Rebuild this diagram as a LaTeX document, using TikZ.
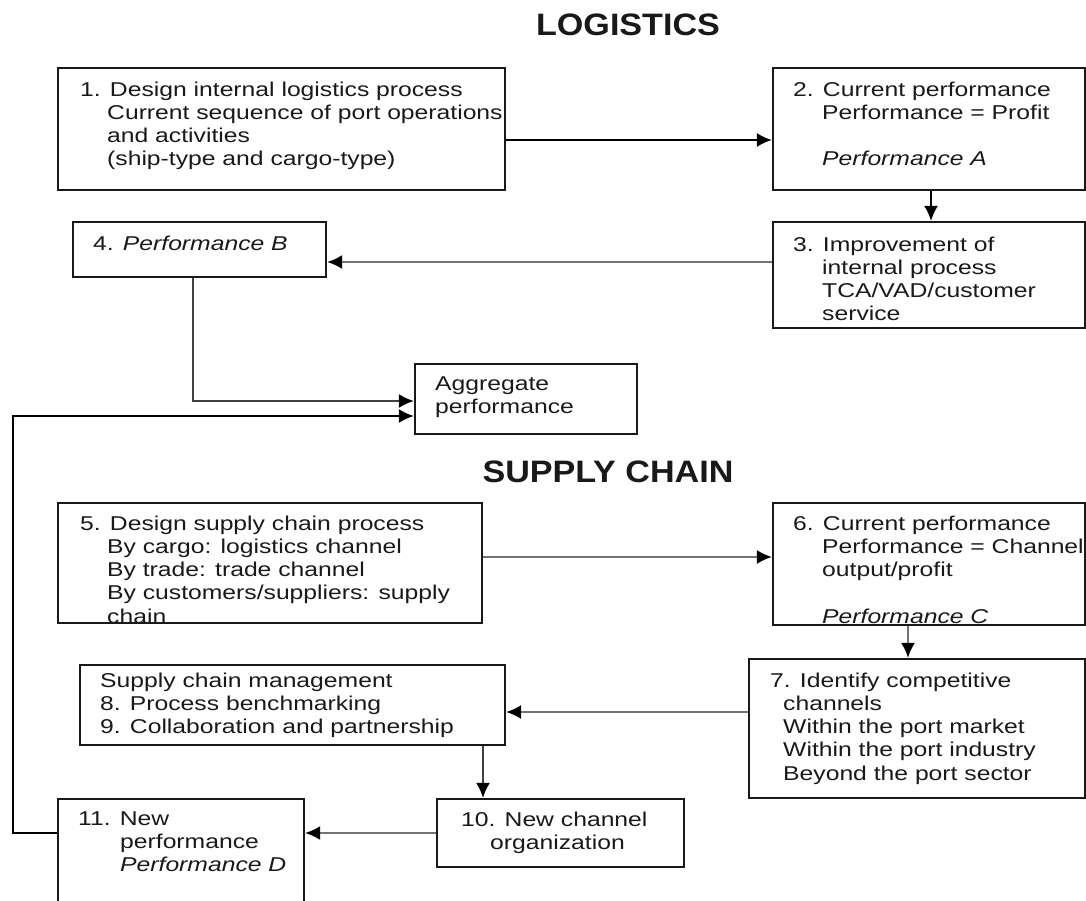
\documentclass[tikz,border=0pt]{standalone}
\usepackage{fontspec}
\setmainfont[FakeStretch=1.235]{Liberation Sans}
\newfontfamily\headfont[FakeStretch=1.1]{Liberation Sans}
\usetikzlibrary{arrows.meta}
% one left-aligned block of lines whose baseline is the first line
\newcommand{\boxlines}[1]{\begin{tabular}[t]{@{}l@{}}#1\end{tabular}}
\newcommand{\ind}[1]{\hspace*{#1pt}}

\begin{document}
\begin{tikzpicture}[x=1pt,y=-1pt,
  box/.style={draw=black!90, line width=2.2pt, inner sep=0pt, rectangle},
  txt/.style={anchor=base west, inner sep=0pt, text=black!90,
    font=\fontsize{20}{23.3}\selectfont},
  head/.style={inner sep=0pt, text=black!90,
    font=\headfont\bfseries\fontsize{31}{31}\selectfont},
  arr/.style={line width=2pt, -{Latex[length=15pt,width=14pt,color=black]}},
  link/.style={arr, draw=black},
  soft/.style={arr, draw=black!55},
  mid/.style={arr, draw=black!75}]

\useasboundingbox (0,0) rectangle (1086,900);
\clip (0,0) rectangle (1086,900);

% section titles
\node[head] (tlog) at (628,25) {LOGISTICS};
\node[head] (tsc) at (608,472) {SUPPLY CHAIN};

% logistics boxes
\node[box, minimum width=447pt, minimum height=122pt] (b1) at (281.5,129) {};
\node[box, minimum width=312pt, minimum height=122pt] (b2) at (929,129) {};
\node[box, minimum width=312pt, minimum height=106pt] (b3) at (929,275) {};
\node[box, minimum width=253pt, minimum height=55pt] (b4) at (199.5,249.5) {};
\node[box, minimum width=222pt, minimum height=70pt] (agg) at (526,399) {};

% supply chain boxes
\node[box, minimum width=424pt, minimum height=120pt] (b5) at (270,563) {};
\node[box, minimum width=312pt, minimum height=122pt] (b6) at (929,564) {};
\node[box, minimum width=336pt, minimum height=139pt] (b7) at (917,728.5) {};
\node[box, minimum width=425pt, minimum height=80pt] (b8) at (292.5,705) {};
\node[box, minimum width=247pt, minimum height=68pt] (b10) at (560.5,833) {};
\node[box, minimum width=246pt, minimum height=170pt] (b11) at (181,884) {};

% box texts
\node[txt] (t1) at (80,96) {\boxlines{1. Design internal logistics process\\
  \ind{27}Current sequence of port operations\\
  \ind{27}and activities\\
  \ind{27}(ship-type and cargo-type)}};
\node[txt] (t2) at (793,96) {\boxlines{2. Current performance\\
  \ind{29}Performance = Profit\\
  \\
  \ind{29}\textit{Performance A}}};
\node[txt] (t3) at (793,251) {\boxlines{3. Improvement of\\
  \ind{29}internal process\\
  \ind{29}TCA/VAD/customer\\
  \ind{29}service}};
\node[txt] (t4) at (93,250) {4. \textit{Performance B}};
\node[txt] (tagg) at (435,390) {\boxlines{Aggregate\\performance}};
\node[txt] (t5) at (80,530) {\boxlines{5. Design supply chain process\\
  \ind{27}By cargo: logistics channel\\
  \ind{27}By trade: trade channel\\
  \ind{27}By customers/suppliers: supply\\
  \ind{27}chain}};
\node[txt] (t6) at (793,530) {\boxlines{6. Current performance\\
  \ind{29}Performance = Channel\\
  \ind{29}output/profit\\
  \\
  \ind{29}\textit{Performance C}}};
\node[txt] (t7) at (770,687) {\boxlines{7. Identify competitive\\
  \ind{13}channels\\
  \ind{13}Within the port market\\
  \ind{13}Within the port industry\\
  \ind{13}Beyond the port sector}};
\node[txt] (t8) at (100,687) {\boxlines{Supply chain management\\
  8. Process benchmarking\\
  9. Collaboration and partnership}};
\node[txt] (t10) at (461,826) {\boxlines{10. New channel\\
  \ind{29}organization}};
\node[txt] (t11) at (78,825) {\boxlines{11. New\\
  \ind{42}performance\\
  \ind{42}\textit{Performance D}}};

% connectors
\coordinate (lc) at (13,600);
\draw[link] ([yshift=-11pt]b1.east) coordinate (p1) -- (b2.west |- p1);
\draw[link] ([xshift=2pt]b2.south) coordinate (p2) -- (b3.north -| p2);
\draw[soft] ([yshift=13pt]b3.west) coordinate (p3) -- (b4.east |- p3);
\draw[mid] ([xshift=-6.5pt]b4.south) |- ([yshift=-2pt]agg.west);
\draw[link] (b11.west |- b10.west) -| (lc) |- ([yshift=-17pt]agg.west);
\draw[soft] ([yshift=6pt]b5.east) coordinate (p5) -- (b6.west |- p5);
\draw[soft] ([xshift=-21pt]b6.south) coordinate (p6) -- (b7.north -| p6);
\draw[soft] ([yshift=16.5pt]b7.west) coordinate (p7) -- (b8.east |- p7);
\draw[mid] ([xshift=190.5pt]b8.south) coordinate (p8) -- (b10.north -| p8);
\draw[soft] (b10.west) -- (b11.east |- b10.west);

\end{tikzpicture}
\end{document}
